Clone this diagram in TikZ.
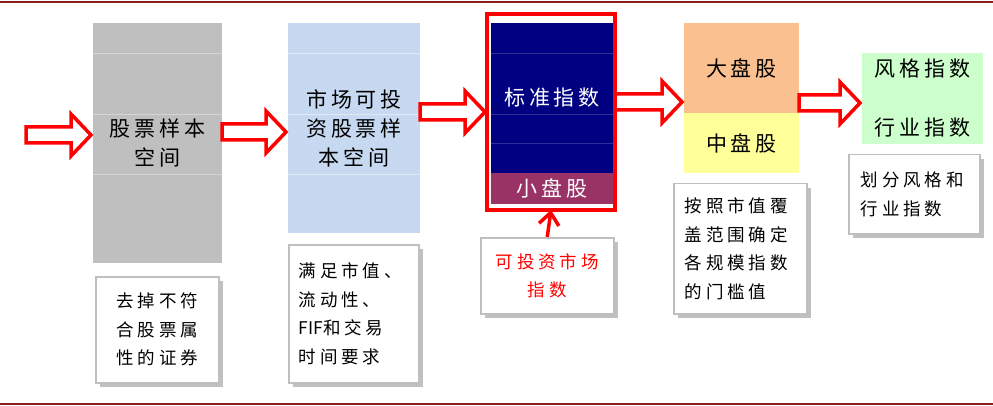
\documentclass[tikz,border=0pt]{standalone}
\usepackage{fontspec}
\newfontfamily\cjk[LetterSpace=18]{Noto Sans CJK SC}
\newfontfamily\cjknote[LetterSpace=22]{Noto Sans CJK SC}
\usetikzlibrary{calc,shadows,arrows.meta}
\definecolor{rulered}{RGB}{140,30,30}
\definecolor{notegray}{RGB}{191,191,191}
\definecolor{graybox}{RGB}{191,191,191}
\definecolor{bluebox}{RGB}{198,217,241}
\definecolor{navybox}{RGB}{0,0,128}
\definecolor{smallbox}{RGB}{153,51,102}
\definecolor{bigbox}{RGB}{250,192,144}
\definecolor{midbox}{RGB}{255,255,153}
\definecolor{stylebox}{RGB}{204,255,204}

\newcommand{\hollowarrow}[2]{%
  \draw[hollow] let \p1=#1, \p2=#2 in
    (\x1,\y1+8) -- (\x2-22,\y1+8) -- (\x2-22,\y1+21) -- (\x2-2,\y1)
    -- (\x2-22,\y1-21) -- (\x2-22,\y1-8) -- (\x1,\y1-8) -- cycle;}

\begin{document}
\begin{tikzpicture}
  [x=1pt, y=-1pt, line join=miter,
   cellbox/.style={anchor=north west, inner sep=0pt, outer sep=0pt, align=center,
     font=\fontsize{21}{29}\selectfont\cjk},
   note/.style={draw=notegray, line width=1.5pt, fill=white, anchor=north west,
     inner ysep=0pt, font=\fontsize{17.5}{28.5}\selectfont\cjknote,
     drop shadow={shadow xshift=4pt, shadow yshift=-4pt, opacity=.45, fill=black!55}},
   hollow/.style={draw=red, line width=3.5pt, fill=white},
   cell/.style={line width=.6pt}]
  \useasboundingbox (0,0) rectangle (993,406);
  \draw[rulered, line width=1.5pt] (0,2) -- (993,2);
  \draw[rulered, line width=1.5pt] (0,404) -- (993,404);

  \node[cellbox, fill=graybox, minimum width=129, minimum height=240] (gray) at (93,23) {股票样本\\空间};
  \node[cellbox, fill=bluebox, minimum width=132, minimum height=210] (blue) at (288,23) {市场可投\\资股票样\\本空间};
  \node[cellbox, fill=navybox, text=white, minimum width=122, minimum height=150] (navy) at (491,23) {标准指数};
  \node[cellbox, fill=smallbox, text=white, minimum width=122, minimum height=31] (small) at (491,173) {小盘股};
  \node[cellbox, fill=bigbox, minimum width=115, minimum height=90] (big) at (684,23) {大盘股};
  \node[cellbox, fill=midbox, minimum width=115, minimum height=60] (mid) at (684,113) {中盘股};
  \node[cellbox, fill=stylebox, minimum width=121, minimum height=91] (style) at (862,53) {风格指数\\[30pt]行业指数};

  \foreach \yy in {53,114,174} {
    \draw[cell, draw=graybox!65!white] (gray.west |- 0,\yy) -- (gray.east |- 0,\yy);
    \draw[cell, draw=bluebox!55!white] (blue.west |- 0,\yy) -- (blue.east |- 0,\yy);
  }
  \foreach \yy in {53,114,143}
    \draw[cell, draw=navybox!82!white] (navy.west |- 0,\yy) -- (navy.east |- 0,\yy);

  \node[draw=red, line width=4pt, inner sep=0pt, outer sep=0pt, minimum width=128, minimum height=196] (frame) at (551,112) {};

  \node[note, align=center, text width=103, inner xsep=10, minimum height=106] (n1) at (95,276) {去掉不符\\合股票属\\性的证券};
  \node[note, align=left, text width=110, inner xsep=10, minimum height=138] (n2) at (288,244) {满足市值、\\流动性、\\{\addfontfeature{LetterSpace=0}FIF}和交易\\时间要求};
  \node[note, align=center, text=red, text width=113, inner xsep=10, minimum height=76] (lab) at (480,237) {可投资市场\\指数};
  \node[note, align=left, text width=111, inner xsep=11, minimum height=130] (n3) at (673,183) {按照市值覆\\盖范围确定\\各规模指数\\的门槛值};
  \node[note, align=left, text width=107, inner xsep=12, minimum height=79] (n4) at (848,154) {划分风格和\\行业指数};

  \coordinate (a0) at (26,135);
  \hollowarrow{(a0)}{(gray.west |- a0)}
  \hollowarrow{(gray.east |- 0,132)}{(blue.west |- 0,132)}
  \hollowarrow{(blue.east |- 0,112)}{(frame.west |- 0,112)}
  \hollowarrow{(frame.east |- 0,102)}{(big.west |- 0,102)}
  \hollowarrow{(big.east |- 0,103)}{(style.west |- 0,103)}

  \draw[red, line width=3.5pt, -{Straight Barb[length=12pt,width=20pt]}] (lab.north) -- (frame.south);
\end{tikzpicture}
\end{document}
